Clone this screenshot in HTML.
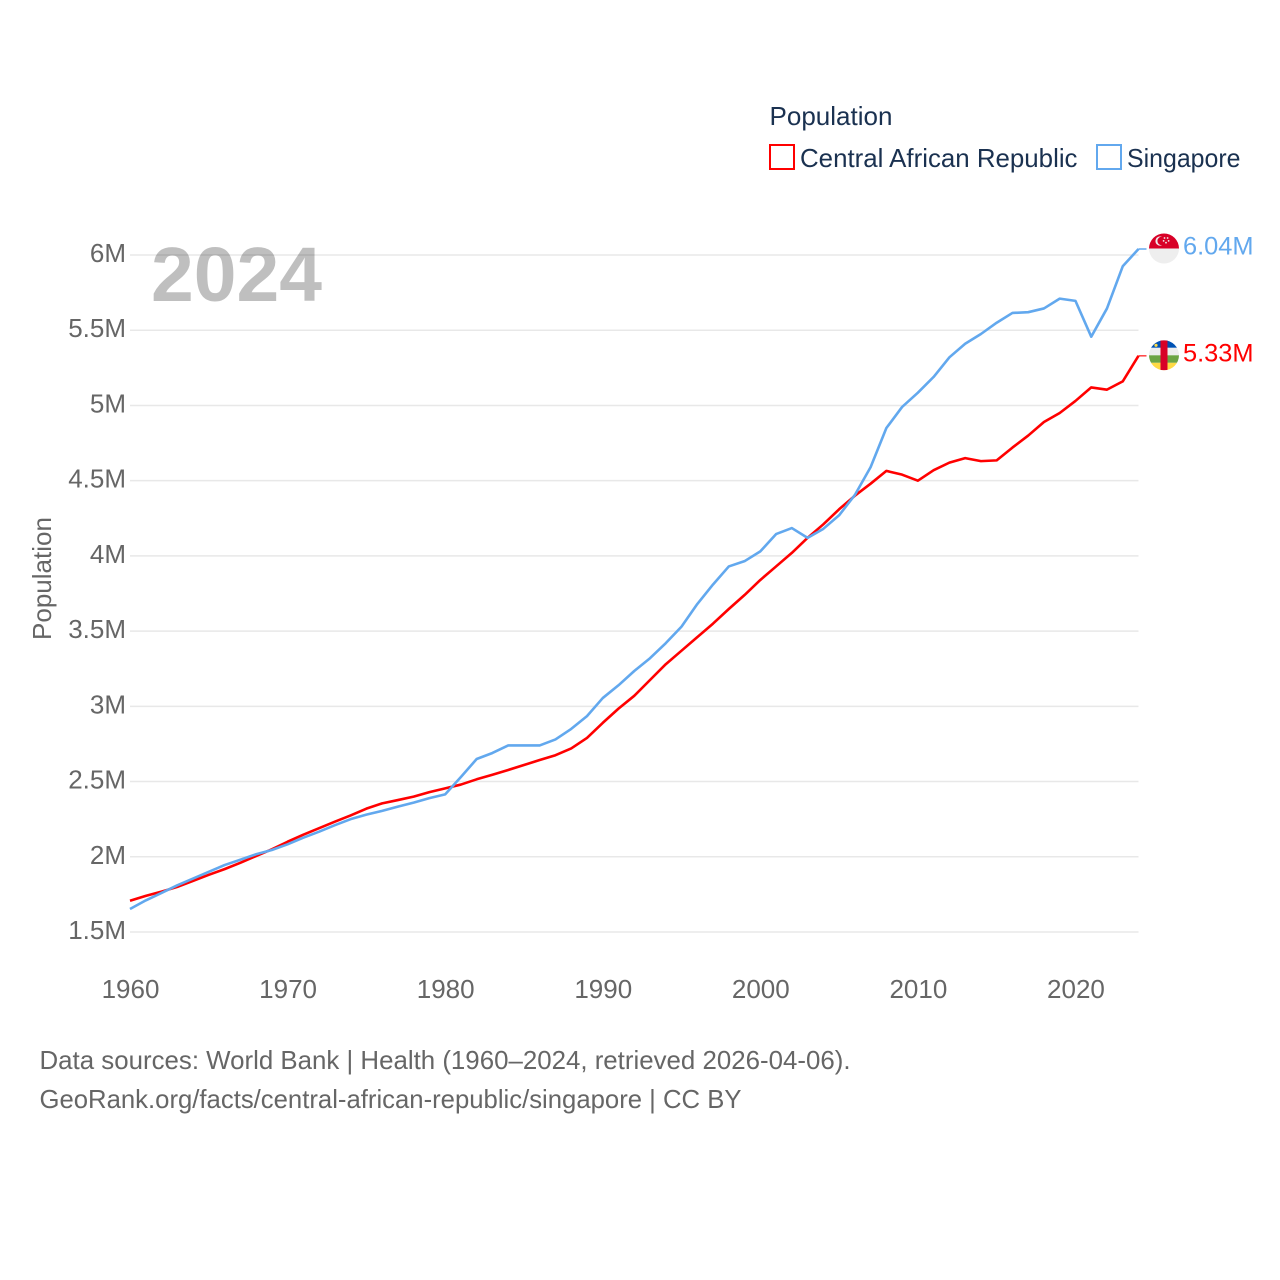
<!DOCTYPE html>
<html lang="en">
<head>
<meta charset="utf-8">
<title>Population: Central African Republic and Singapore</title>
<style>
html,body{margin:0;padding:0;background:#fff;width:1280px;height:1280px;overflow:hidden}
svg{display:block;font-family:"Liberation Sans",sans-serif}
</style>
</head>
<body>
<svg id="chart" xmlns="http://www.w3.org/2000/svg" width="1280" height="1280" viewBox="0 0 1280 1280">
  <rect width="1280" height="1280" fill="#fff"/>

  <g id="grid"></g>
  <g id="y-ticks"></g>
  <g id="x-ticks"></g>

  <text transform="translate(51,578.5) rotate(-90)" text-anchor="middle" font-size="26" fill="#666" textLength="123" lengthAdjust="spacingAndGlyphs">Population</text>

  <text x="151" y="301" font-size="77" font-weight="700" fill="rgba(0,0,0,0.25)" textLength="171" lengthAdjust="spacingAndGlyphs">2024</text>

  <g id="series"></g>
  <g id="end-labels"></g>

  <g>
    <text x="769.5" y="125" font-size="26" fill="#1a3150" textLength="123" lengthAdjust="spacingAndGlyphs">Population</text>
    <g>
      <rect x="770" y="145" width="24" height="24" fill="#fff" stroke="#ff0000" stroke-width="2"/>
      <text x="800" y="167" font-size="26" fill="#1a3150" textLength="277.5" lengthAdjust="spacingAndGlyphs">Central African Republic</text>
    </g>
    <g>
      <rect x="1097" y="145" width="24" height="24" fill="#fff" stroke="#62a8ee" stroke-width="2"/>
      <text x="1127" y="167" font-size="26" fill="#1a3150" textLength="113.5" lengthAdjust="spacingAndGlyphs">Singapore</text>
    </g>
  </g>

  <text x="39.5" y="1069" font-size="26" fill="#666" textLength="811" lengthAdjust="spacingAndGlyphs">Data sources: World Bank | Health (1960–2024, retrieved 2026-04-06).</text>
  <text x="39.5" y="1108" font-size="26" fill="#666" textLength="702" lengthAdjust="spacingAndGlyphs">GeoRank.org/facts/central-african-republic/singapore | CC BY</text>
</svg>

<script>
const years = [1960,1961,1962,1963,1964,1965,1966,1967,1968,1969,1970,1971,1972,1973,1974,1975,1976,1977,1978,1979,1980,1981,1982,1983,1984,1985,1986,1987,1988,1989,1990,1991,1992,1993,1994,1995,1996,1997,1998,1999,2000,2001,2002,2003,2004,2005,2006,2007,2008,2009,2010,2011,2012,2013,2014,2015,2016,2017,2018,2019,2020,2021,2022,2023,2024];
const centralAfricanRepublic = [1.708,1.74,1.768,1.80,1.84,1.88,1.918,1.96,2.005,2.05,2.10,2.147,2.19,2.233,2.275,2.32,2.355,2.377,2.40,2.43,2.455,2.48,2.515,2.545,2.577,2.61,2.643,2.675,2.72,2.79,2.89,2.985,3.07,3.175,3.28,3.37,3.46,3.55,3.647,3.74,3.84,3.93,4.02,4.12,4.21,4.31,4.40,4.48,4.565,4.54,4.50,4.57,4.62,4.65,4.63,4.635,4.72,4.80,4.89,4.95,5.03,5.12,5.105,5.16,5.33];
const singapore = [1.653,1.71,1.76,1.81,1.855,1.90,1.945,1.98,2.017,2.045,2.083,2.127,2.167,2.21,2.25,2.28,2.305,2.333,2.36,2.39,2.415,2.53,2.65,2.69,2.74,2.74,2.74,2.78,2.85,2.935,3.055,3.14,3.235,3.32,3.42,3.53,3.68,3.81,3.93,3.965,4.03,4.145,4.185,4.12,4.18,4.27,4.405,4.59,4.85,4.99,5.085,5.19,5.32,5.41,5.475,5.55,5.615,5.62,5.645,5.71,5.695,5.457,5.645,5.925,6.04];
const yTickValues = [1.5,2,2.5,3,3.5,4,4.5,5,5.5,6];
const yTickLabels = ["1.5M","2M","2.5M","3M","3.5M","4M","4.5M","5M","5.5M","6M"];
const xTickValues = [1960,1970,1980,1990,2000,2010,2020];
const xTickLabels = ["1960","1970","1980","1990","2000","2010","2020"];

const NS = "http://www.w3.org/2000/svg";
const xScale = function (year) { return 130 + (year - 1960) * (1138.5 - 130) / 64; };
const yScale = function (value) { return 932 - (value - 1.5) * 150.44; };

function make(tag, attrs, parent) {
  const el = document.createElementNS(NS, tag);
  for (const key in attrs) { el.setAttribute(key, attrs[key]); }
  parent.appendChild(el);
  return el;
}

const gridGroup = document.getElementById("grid");
const yTickGroup = document.getElementById("y-ticks");
yTickValues.forEach(function (value, i) {
  const y = yScale(value);
  const line = make("line", {x1: 130, x2: 1138.5, y1: y, y2: y, stroke: "#e8e8e8", "stroke-width": 1.5}, gridGroup);
  
  
  const label = make("text", {x: 126, y: y + 7, "text-anchor": "end", "font-size": 26, fill: "#666"}, yTickGroup);
  
  
  label.textContent = yTickLabels[i];
});

const xTickGroup = document.getElementById("x-ticks");
xTickValues.forEach(function (year, i) {
  const label = make("text", {x: xScale(year) + 0.5, y: 998, "text-anchor": "middle", "font-size": 26, fill: "#666"}, xTickGroup);
  
  
  label.textContent = xTickLabels[i];
});

function pointsFor(values) {
  return values.map(function (v, i) {
    return xScale(years[i]).toFixed(2) + "," + yScale(v).toFixed(2);
  }).join(" ");
}

const seriesGroup = document.getElementById("series");
const labelGroup = document.getElementById("end-labels");

const carLine = make("polyline", {points: pointsFor(centralAfricanRepublic), fill: "none", stroke: "#ff0000", "stroke-width": 2.6, "stroke-linejoin": "round"}, seriesGroup);



const sgLine = make("polyline", {points: pointsFor(singapore), fill: "none", stroke: "#62a8ee", "stroke-width": 2.6, "stroke-linejoin": "round"}, seriesGroup);



const lastIndex = years.length - 1;
const lastX = xScale(years[lastIndex]);
const carY = yScale(centralAfricanRepublic[lastIndex]);
const sgY = yScale(singapore[lastIndex]);

const carConnector = make("line", {x1: lastX, x2: lastX + 8, y1: carY, y2: carY, stroke: "#ff0000", "stroke-width": 1.5, opacity: 0.75}, labelGroup);



const sgConnector = make("line", {x1: lastX, x2: lastX + 8, y1: sgY, y2: sgY, stroke: "#62a8ee", "stroke-width": 1.5}, labelGroup);



const defs = make("defs", {}, labelGroup);
const clip = make("clipPath", {id: "flag-clip"}, defs);
make("circle", {cx: 0, cy: 0, r: 15}, clip);

/* Singapore flag */
const sgFlag = make("g", {transform: "translate(1164," + (sgY - 0.5).toFixed(2) + ")", "clip-path": "url(#flag-clip)"}, labelGroup);


make("rect", {x: -15, y: 0, width: 30, height: 15, fill: "#eeeeee"}, sgFlag);
make("rect", {x: -15, y: -15, width: 30, height: 15, fill: "#d80027"}, sgFlag);
make("circle", {cx: -4, cy: -7.5, r: 4.6, fill: "#eeeeee"}, sgFlag);
make("circle", {cx: -2.4, cy: -7.5, r: 4.2, fill: "#d80027"}, sgFlag);
[[0.5, -10.5], [3.6, -10.5], [-0.4, -7.6], [4.6, -7.6], [2, -5.8]].forEach(function (p) {
  make("circle", {cx: p[0], cy: p[1], r: 0.9, fill: "#eeeeee"}, sgFlag);
});

/* Central African Republic flag */
const cfFlag = make("g", {transform: "translate(1164," + (carY - 0.5).toFixed(2) + ")", "clip-path": "url(#flag-clip)"}, labelGroup);


make("rect", {x: -15, y: -15, width: 30, height: 7.5, fill: "#0052b4"}, cfFlag);
make("rect", {x: -15, y: -7.5, width: 30, height: 7.5, fill: "#eeeeee"}, cfFlag);
make("rect", {x: -15, y: 0, width: 30, height: 7.5, fill: "#6da544"}, cfFlag);
make("rect", {x: -15, y: 7.5, width: 30, height: 7.5, fill: "#ffda44"}, cfFlag);
make("rect", {x: -3.5, y: -15, width: 7, height: 30, fill: "#d80027"}, cfFlag);
make("circle", {cx: -8, cy: -10, r: 1.6, fill: "#ffda44"}, cfFlag);

const sgValue = make("text", {x: 1183, y: sgY + 5.5, "font-size": 25.4, fill: "#62a8ee"}, labelGroup);


sgValue.textContent = singapore[lastIndex].toFixed(2) + "M";

const carValue = make("text", {x: 1183, y: carY + 5.5, "font-size": 25.4, fill: "#ff0000"}, labelGroup);


carValue.textContent = centralAfricanRepublic[lastIndex].toFixed(2) + "M";
</script>
</body>
</html>
